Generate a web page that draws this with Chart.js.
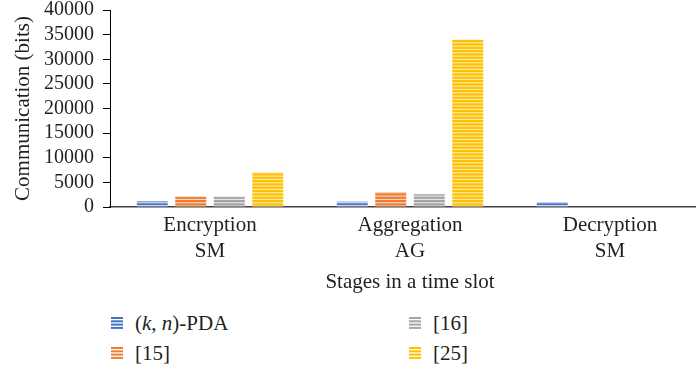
<!DOCTYPE html>
<html>
<head>
<meta charset="utf-8">
<script src="https://cdn.jsdelivr.net/npm/chart.js@4/dist/chart.umd.min.js"></script>
<style>
    html, body { margin: 0; padding: 0; background: #fff; }
    #wrap { position: relative; width: 696px; height: 372px; overflow: hidden; }
    #chart { position: absolute; left: 0; top: 0; }
    .legend-item {
        position: absolute;
        font-family: "Liberation Serif", serif;
        font-size: 21px;
        color: #231f20;
        line-height: 24px;
        white-space: nowrap;
    }
    .legend-item canvas { position: absolute; left: 0; top: 6px; }
    .legend-item span { position: absolute; left: 24px; top: 0; }
</style>
</head>
<body>
<div id="wrap">
    <canvas id="chart" width="720" height="300"></canvas>
</div>
<script>
(function () {
    "use strict";

    // Data
    const stages = [["Encryption", "SM"], ["Aggregation", "AG"], ["Decryption", "SM"]];
    const seriesNames = ["(<i>k</i>, <i>n</i>)-PDA", "[15]", "[16]", "[25]"];
    const kn = [1200, 1100, 1000];
    const ref15 = [2100, 3000, 0];
    const ref16 = [2100, 2600, 0];
    const ref25 = [7000, 34000, 0];
    const yTicks = [0, 5000, 10000, 15000, 20000, 25000, 30000, 35000, 40000];

    const colors = ["#4472c4", "#ed7d31", "#a5a5a5", "#ffc000"];
    const FONT = "Liberation Serif";
    const TEXT = "#231f20";

    // horizontal stripe fill
    const makeStripes = (color, thick) => {
        const c = document.createElement("canvas");
        c.width = 10;
        c.height = 10;
        const g = c.getContext("2d");
        g.fillStyle = "#ffffff";
        g.fillRect(0, 0, 10, 10);
        g.globalAlpha = 0.3;
        g.fillStyle = color;
        g.fillRect(0, 0, 10, 10);
        g.globalAlpha = 1;
        for (let i = 0; i < 3; i++) {
            g.fillRect(0, i * 10 / 3, 10, thick);
        }
        return c;
    };

    const ctx = document.getElementById("chart").getContext("2d");
    const patterns = colors.map((c, i) =>
        ctx.createPattern(makeStripes(c, i === 0 ? 1.6 : 2.2), "repeat")
    );

    const values = [kn, ref15, ref16, ref25];

    new Chart(ctx, {
        type: "bar",
        data: {
            labels: stages,
            datasets: values.map((v, i) => ({
                label: seriesNames[i],
                data: v,
                backgroundColor: patterns[i],
                borderWidth: 0,
                categoryPercentage: 0.77,
                barPercentage: 0.805,
            })),
        },
        options: {
            responsive: false,
            animation: false,
            layout: {
                padding: { top: 10, right: 10, bottom: 0, left: 0 },
            },
            plugins: {
                legend: { display: false },
                tooltip: { enabled: false },
            },
            scales: {
                x: {
                    grid: { display: false },
                    border: { display: true, color: "#404040", width: 1.5 },
                    ticks: {
                        color: TEXT,
                        font: { family: FONT, size: 21, lineHeight: 1.22 },
                        padding: -2,
                        maxRotation: 0,
                    },
                    title: {
                        display: true,
                        text: "Stages in a time slot",
                        color: TEXT,
                        font: { family: FONT, size: 21, lineHeight: 1.2 },
                        padding: { top: 0, bottom: 5 },
                    },
                    afterFit: (s) => {
                        s.height = 93;
                        s.paddingLeft = 0;
                        s.paddingRight = 0;
                    },
                },
                y: {
                    min: 0,
                    max: 40000,
                    afterBuildTicks: (s) => {
                        s.ticks = yTicks.map((v) => ({ value: v }));
                    },
                    grid: {
                        drawOnChartArea: false,
                        drawTicks: true,
                        tickLength: 7,
                        color: "#000",
                    },
                    border: { display: true, color: "#000", width: 1 },
                    ticks: {
                        color: TEXT,
                        font: { family: FONT, size: 20 },
                        padding: 9,
                        autoSkip: false,
                        callback: (v) => String(v),
                    },
                    title: {
                        display: true,
                        text: "Communication (bits)",
                        color: TEXT,
                        font: { family: FONT, size: 21, lineHeight: 1.2 },
                        padding: { top: 11, bottom: 0 },
                    },
                    afterFit: (s) => {
                        s.width = 110;
                        s.paddingTop = 0;
                        s.paddingBottom = 0;
                    },
                },
            },
        },
    });

    // Legend, two columns
    const wrap = document.getElementById("wrap");
    const spots = [[111, 311], [111, 341], [409, 311], [409, 341]];
    const order = [0, 1, 2, 3];
    order.forEach((i) => {
        const item = document.createElement("div");
        item.className = "legend-item";
        item.style.left = spots[i][0] + "px";
        item.style.top = spots[i][1] + "px";
        const icon = document.createElement("canvas");
        icon.width = 12;
        icon.height = 12;
        const g = icon.getContext("2d");
        g.fillStyle = colors[i];
        for (let k = 0; k < 4; k++) {
            g.fillRect(0, k * 3.3, 12, 2);
        }
        const txt = document.createElement("span");
        txt.innerHTML = seriesNames[i];
        item.appendChild(icon);
        item.appendChild(txt);
        wrap.appendChild(item);
    });
})();
</script>
</body>
</html>
